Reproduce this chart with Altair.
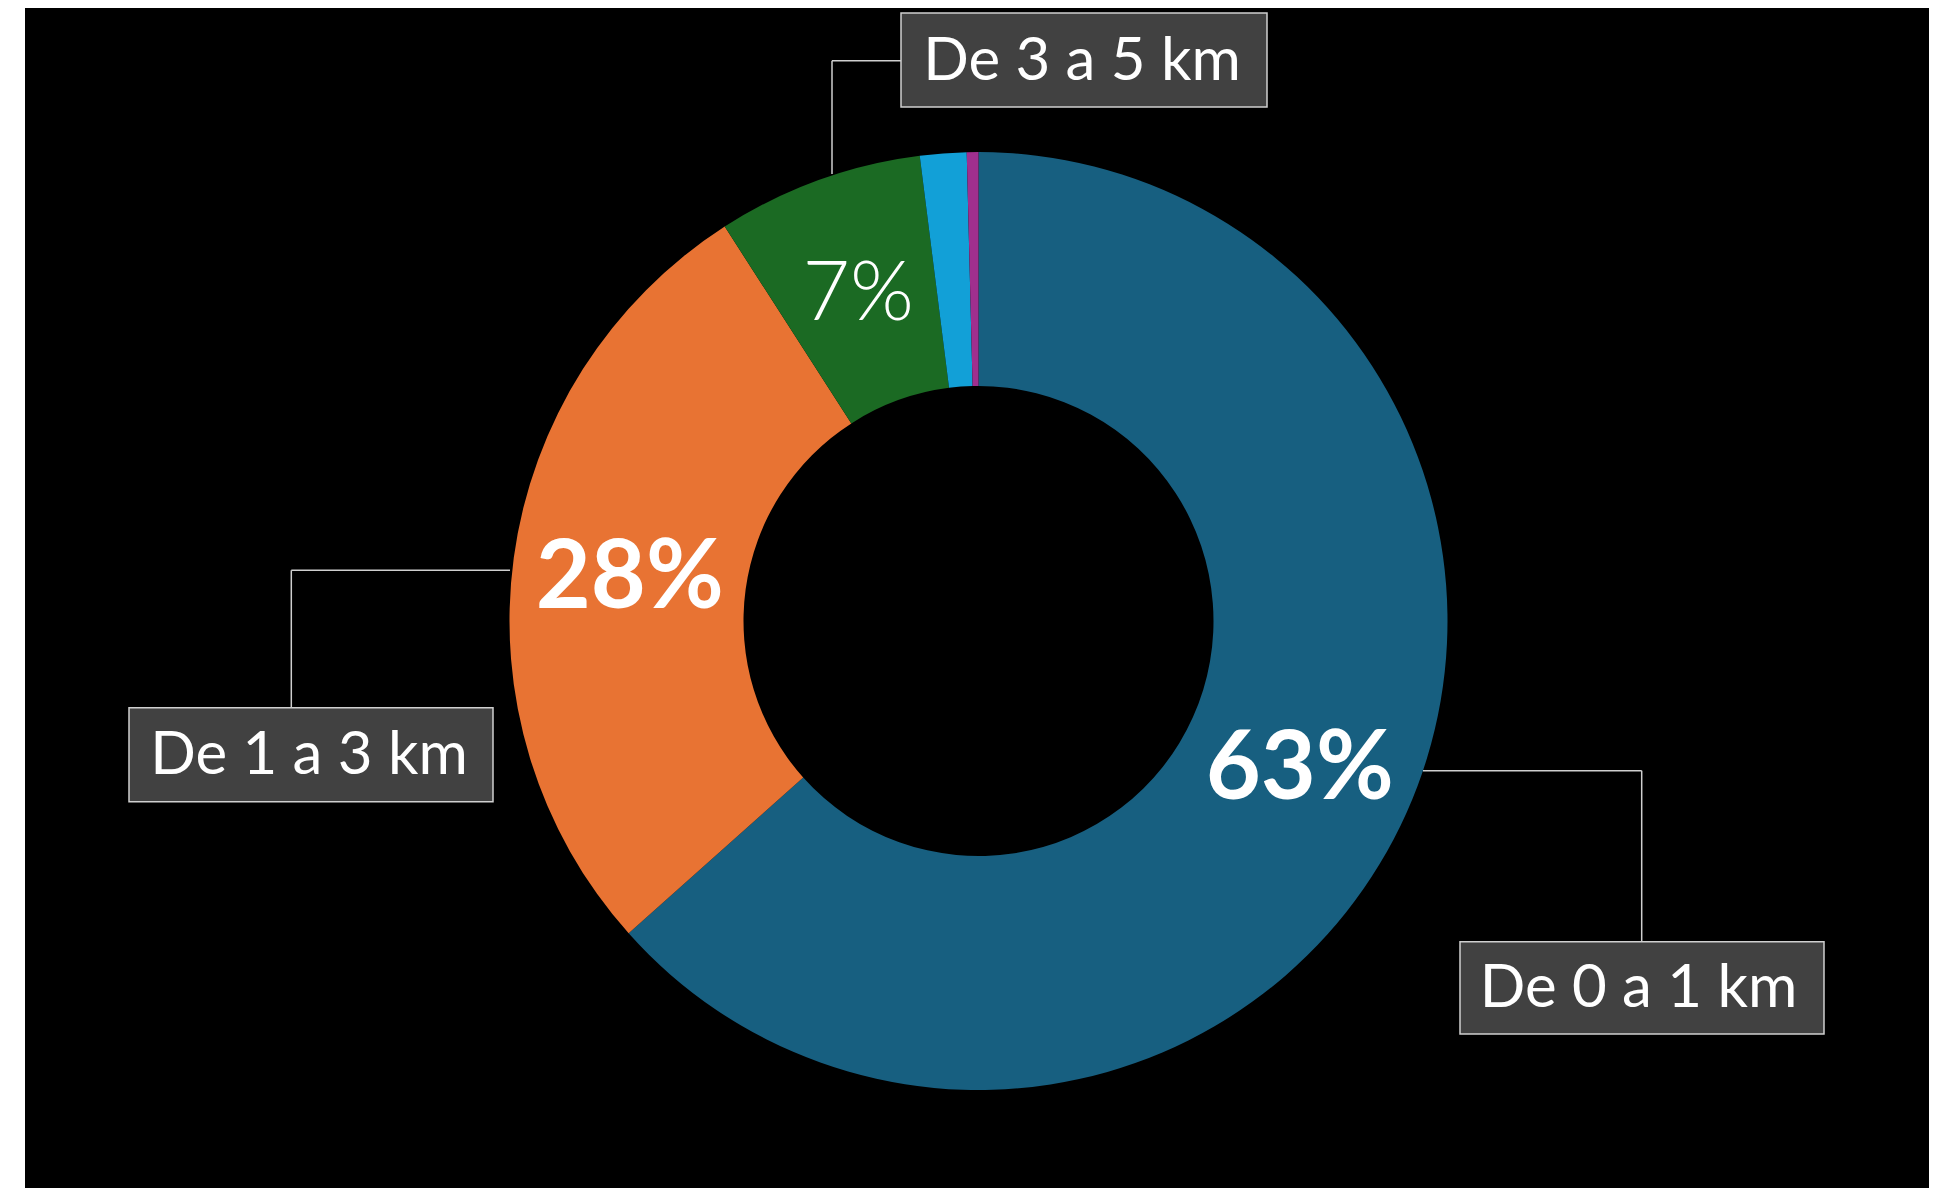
import altair as alt
import pandas as pd

# ---- data ----
categories = ["De 0 a 1 km", "De 1 a 3 km", "De 3 a 5 km", "De 5 a 10 km", "Más de 10 km"]
shares = [63.4, 27.5, 7.1, 1.6, 0.4]
pct_labels = ["63%", "28%", "7%", "", ""]
colors = ["#175f80", "#e87333", "#1b6a23", "#12a0d7", "#a02f8e"]

df = pd.DataFrame({
    "idx": list(range(len(categories))),
    "cat": categories,
    "value": shares,
    "pct": pct_labels,
})

# geometry (pixels, view coordinates)
CX, CY = 953.5, 613
R_OUT, R_IN = 469, 235
R_LAB = (R_OUT + R_IN) / 2

base = alt.Chart(df)

arc = base.mark_arc(radius=R_OUT, radius2=R_IN, strokeWidth=0).encode(
    theta=alt.Theta("value:Q", stack=True),
    color=alt.Color("cat:N", scale=alt.Scale(domain=categories, range=colors), legend=None),
    order=alt.Order("idx:Q"),
    x=alt.value(CX),
    y=alt.value(CY),
)

pct_bold = base.transform_calculate(
    t="datum.idx < 2 ? datum.pct : ''"
).mark_text(radius=R_LAB, font="Lato", fontSize=95, fontWeight="bold",
            color="white", align="center", baseline="middle", dy=5).encode(
    theta=alt.Theta("value:Q", stack=True),
    order=alt.Order("idx:Q"),
    detail="cat:N",
    text="t:N",
    x=alt.value(CX),
    y=alt.value(CY),
)

pct_light = base.transform_calculate(
    t="datum.idx == 2 ? datum.pct : ''"
).mark_text(radius=R_LAB, font="Lato", fontSize=82, fontWeight=300,
            color="white", align="center", baseline="middle", dy=5).encode(
    theta=alt.Theta("value:Q", stack=True),
    order=alt.Order("idx:Q"),
    detail="cat:N",
    text="t:N",
    x=alt.value(CX),
    y=alt.value(CY),
)

one = alt.Data(values=[{"a": 1}])
LINE = "#cfcfcf"


def seg(x1, y1, x2, y2):
    return alt.Chart(one).mark_rule(color=LINE, strokeWidth=1.5).encode(
        x=alt.value(x1), x2=alt.value(x2), y=alt.value(y1), y2=alt.value(y2)
    )


def box(x1, y1, x2, y2):
    return alt.Chart(one).mark_rect(fill="#414141", stroke=LINE, strokeWidth=1.5).encode(
        x=alt.value(x1), x2=alt.value(x2), y=alt.value(y1), y2=alt.value(y2)
    )


def box_text(cx, by, label):
    return alt.Chart(one).mark_text(font="Lato", fontSize=60, color="white",
                                    align="center", baseline="alphabetic").encode(
        x=alt.value(cx), y=alt.value(by), text=alt.value(label)
    )


layers = [
    arc, pct_bold, pct_light,
    # De 3 a 5 km (top)
    seg(807, 52.7, 876, 52.7), seg(807, 52.7, 807, 166),
    box(876, 5, 1242, 99), box_text(1057, 72, categories[2]),
    # De 1 a 3 km (left)
    seg(266.3, 562.3, 485, 562.3), seg(266.3, 562.3, 266.3, 699.7),
    box(104, 699.7, 468, 793.7), box_text(284, 766, categories[1]),
    # De 0 a 1 km (bottom right)
    seg(1398, 762.7, 1616.7, 762.7), seg(1616.7, 762.7, 1616.7, 933.7),
    box(1435, 933.7, 1799, 1026), box_text(1613.5, 999, categories[0]),
]

chart = alt.layer(*layers).properties(
    width=1904,
    height=1180,
    autosize=alt.AutoSizeParams(type="none"),
    padding={"left": 17, "top": 0, "right": 0, "bottom": 0},
    background="white",
).configure_view(fill="black", strokeWidth=0)

chart.save("out.html", embed_options={"renderer": "svg", "actions": False})
